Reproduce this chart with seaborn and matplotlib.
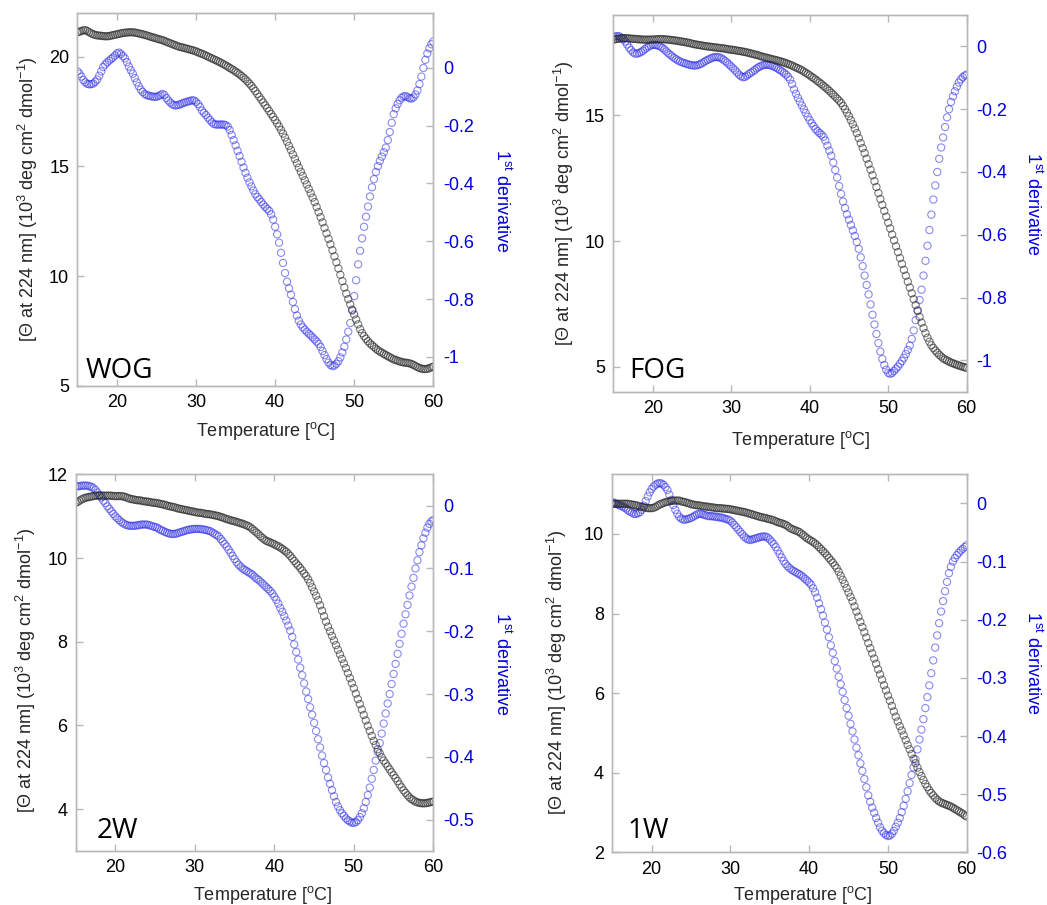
import numpy as np
import matplotlib
matplotlib.use("Agg")
import matplotlib.pyplot as plt
import seaborn as sns

# temperature grid of the melt (15-60 C, 0.25 C steps)
temps = np.arange(15, 60.001, 0.25)

# WOG
wog_theta = [
    21.12, 21.15, 21.18, 21.21, 21.22, 21.18, 21.12, 21.07,
    21.03, 21.00, 20.98, 20.97, 20.96, 20.95, 20.94, 20.94,
    20.95, 20.97, 20.99, 21.01, 21.03, 21.05, 21.07, 21.09,
    21.10, 21.11, 21.12, 21.12, 21.12, 21.11, 21.09, 21.07,
    21.05, 21.03, 21.00, 20.98, 20.95, 20.92, 20.89, 20.87,
    20.84, 20.81, 20.79, 20.76, 20.73, 20.69, 20.65, 20.62,
    20.58, 20.55, 20.51, 20.48, 20.45, 20.43, 20.41, 20.38,
    20.36, 20.33, 20.31, 20.28, 20.25, 20.21, 20.17, 20.14,
    20.10, 20.06, 20.02, 19.97, 19.93, 19.89, 19.85, 19.80,
    19.76, 19.71, 19.66, 19.61, 19.56, 19.50, 19.45, 19.39,
    19.33, 19.27, 19.20, 19.13, 19.05, 18.97, 18.88, 18.78,
    18.68, 18.56, 18.44, 18.31, 18.18, 18.05, 17.92, 17.79,
    17.66, 17.53, 17.39, 17.26, 17.12, 16.97, 16.82, 16.66,
    16.50, 16.32, 16.13, 15.94, 15.75, 15.55, 15.35, 15.15,
    14.95, 14.76, 14.57, 14.37, 14.18, 13.98, 13.78, 13.58,
    13.38, 13.15, 12.92, 12.69, 12.45, 12.20, 11.95, 11.70,
    11.45, 11.18, 10.90, 10.63, 10.35, 10.06, 9.77, 9.48,
    9.20, 8.95, 8.71, 8.47, 8.25, 8.02, 7.80, 7.58,
    7.40, 7.26, 7.14, 7.03, 6.93, 6.85, 6.77, 6.69,
    6.62, 6.56, 6.51, 6.45, 6.40, 6.35, 6.30, 6.25,
    6.20, 6.17, 6.14, 6.11, 6.08, 6.06, 6.05, 6.04,
    6.02, 5.99, 5.95, 5.90, 5.85, 5.81, 5.78, 5.76,
    5.76, 5.77, 5.80, 5.84, 5.87,
]
wog_deriv = [
    -0.012, -0.020, -0.030, -0.042, -0.050, -0.055, -0.057, -0.056,
    -0.054, -0.048, -0.040, -0.027, -0.012, 0.003, 0.012, 0.019,
    0.025, 0.031, 0.036, 0.043, 0.050, 0.053, 0.048, 0.041,
    0.033, 0.020, 0.005, -0.008, -0.020, -0.035, -0.050, -0.063,
    -0.075, -0.083, -0.090, -0.094, -0.096, -0.098, -0.099, -0.100,
    -0.100, -0.097, -0.094, -0.090, -0.094, -0.104, -0.113, -0.120,
    -0.126, -0.129, -0.130, -0.128, -0.126, -0.123, -0.120, -0.118,
    -0.116, -0.114, -0.112, -0.113, -0.118, -0.125, -0.135, -0.148,
    -0.156, -0.163, -0.172, -0.180, -0.188, -0.194, -0.196, -0.196,
    -0.196, -0.196, -0.196, -0.198, -0.203, -0.215, -0.232, -0.250,
    -0.268, -0.287, -0.305, -0.325, -0.345, -0.363, -0.380, -0.396,
    -0.410, -0.424, -0.437, -0.447, -0.455, -0.464, -0.473, -0.481,
    -0.488, -0.495, -0.507, -0.525, -0.550, -0.576, -0.605, -0.640,
    -0.675, -0.710, -0.740, -0.763, -0.785, -0.810, -0.835, -0.857,
    -0.875, -0.888, -0.898, -0.906, -0.913, -0.920, -0.926, -0.933,
    -0.940, -0.947, -0.955, -0.966, -0.980, -0.994, -1.008, -1.020,
    -1.028, -1.032, -1.030, -1.024, -1.015, -1.002, -0.985, -0.965,
    -0.940, -0.913, -0.883, -0.840, -0.790, -0.735, -0.680, -0.633,
    -0.590, -0.550, -0.515, -0.480, -0.445, -0.413, -0.385, -0.360,
    -0.340, -0.322, -0.307, -0.292, -0.276, -0.250, -0.222, -0.190,
    -0.160, -0.140, -0.125, -0.112, -0.103, -0.099, -0.097, -0.101,
    -0.105, -0.106, -0.102, -0.092, -0.078, -0.056, -0.030, 0.000,
    0.028, 0.050, 0.068, 0.082, 0.091,
]

# FOG
fog_theta = [
    18.02, 18.04, 18.05, 18.06, 18.07, 18.08, 18.08, 18.07,
    18.07, 18.06, 18.05, 18.05, 18.04, 18.03, 18.03, 18.02,
    18.02, 18.02, 18.02, 18.02, 18.02, 18.03, 18.03, 18.04,
    18.04, 18.04, 18.03, 18.03, 18.02, 18.01, 18.00, 17.99,
    17.98, 17.97, 17.95, 17.94, 17.93, 17.91, 17.90, 17.88,
    17.86, 17.84, 17.83, 17.81, 17.80, 17.79, 17.77, 17.76,
    17.75, 17.74, 17.73, 17.72, 17.71, 17.70, 17.69, 17.68,
    17.67, 17.66, 17.64, 17.63, 17.62, 17.61, 17.60, 17.58,
    17.57, 17.56, 17.54, 17.53, 17.51, 17.49, 17.47, 17.45,
    17.43, 17.41, 17.39, 17.36, 17.34, 17.32, 17.30, 17.28,
    17.26, 17.24, 17.22, 17.20, 17.18, 17.16, 17.13, 17.11,
    17.08, 17.05, 17.02, 16.99, 16.95, 16.91, 16.88, 16.84,
    16.80, 16.75, 16.70, 16.65, 16.60, 16.54, 16.49, 16.43,
    16.37, 16.31, 16.25, 16.18, 16.12, 16.05, 15.98, 15.90,
    15.83, 15.75, 15.67, 15.59, 15.50, 15.38, 15.25, 15.11,
    14.97, 14.81, 14.65, 14.48, 14.30, 14.10, 13.90, 13.70,
    13.50, 13.28, 13.06, 12.84, 12.62, 12.38, 12.15, 11.91,
    11.67, 11.44, 11.20, 10.97, 10.73, 10.50, 10.26, 10.03,
    9.79, 9.56, 9.32, 9.09, 8.85, 8.62, 8.38, 8.15,
    7.92, 7.68, 7.45, 7.21, 6.98, 6.75, 6.53, 6.33,
    6.15, 5.99, 5.85, 5.74, 5.64, 5.55, 5.47, 5.40,
    5.33, 5.28, 5.24, 5.20, 5.16, 5.13, 5.10, 5.07,
    5.04, 5.02, 4.99, 4.97, 4.95,
]
fog_deriv = [
    0.030, 0.032, 0.033, 0.032, 0.028, 0.023, 0.016, 0.006,
    -0.004, -0.012, -0.019, -0.023, -0.023, -0.021, -0.018, -0.014,
    -0.009, -0.004, 0.000, 0.003, 0.005, 0.005, 0.004, 0.002,
    -0.001, -0.005, -0.010, -0.016, -0.022, -0.027, -0.032, -0.037,
    -0.041, -0.045, -0.048, -0.051, -0.053, -0.055, -0.057, -0.059,
    -0.060, -0.061, -0.061, -0.059, -0.057, -0.054, -0.050, -0.046,
    -0.043, -0.040, -0.037, -0.035, -0.034, -0.034, -0.035, -0.038,
    -0.042, -0.047, -0.052, -0.058, -0.064, -0.070, -0.076, -0.083,
    -0.090, -0.095, -0.098, -0.097, -0.093, -0.088, -0.084, -0.080,
    -0.075, -0.070, -0.066, -0.063, -0.060, -0.059, -0.058, -0.059,
    -0.060, -0.062, -0.065, -0.068, -0.072, -0.076, -0.080, -0.085,
    -0.090, -0.097, -0.106, -0.120, -0.137, -0.151, -0.164, -0.176,
    -0.188, -0.200, -0.212, -0.224, -0.235, -0.245, -0.254, -0.263,
    -0.270, -0.276, -0.281, -0.288, -0.300, -0.316, -0.332, -0.348,
    -0.370, -0.394, -0.418, -0.445, -0.470, -0.494, -0.515, -0.535,
    -0.552, -0.569, -0.586, -0.604, -0.623, -0.645, -0.672, -0.700,
    -0.730, -0.760, -0.790, -0.822, -0.855, -0.886, -0.916, -0.945,
    -0.972, -0.996, -1.015, -1.030, -1.040, -1.043, -1.040, -1.034,
    -1.027, -1.020, -1.011, -1.002, -0.992, -0.980, -0.967, -0.953,
    -0.932, -0.905, -0.872, -0.840, -0.808, -0.775, -0.730, -0.683,
    -0.635, -0.585, -0.536, -0.488, -0.443, -0.400, -0.358, -0.322,
    -0.290, -0.257, -0.226, -0.200, -0.177, -0.159, -0.143, -0.128,
    -0.115, -0.105, -0.098, -0.093, -0.090,
]

# 2W
w2_theta = [
    11.32, 11.34, 11.37, 11.40, 11.42, 11.44, 11.45, 11.46,
    11.47, 11.48, 11.49, 11.49, 11.49, 11.49, 11.49, 11.49,
    11.49, 11.49, 11.49, 11.48, 11.48, 11.48, 11.48, 11.48,
    11.47, 11.46, 11.44, 11.42, 11.41, 11.40, 11.39, 11.38,
    11.38, 11.37, 11.36, 11.35, 11.35, 11.34, 11.33, 11.32,
    11.32, 11.31, 11.30, 11.29, 11.28, 11.27, 11.25, 11.24,
    11.23, 11.22, 11.21, 11.19, 11.18, 11.17, 11.16, 11.15,
    11.14, 11.13, 11.12, 11.11, 11.10, 11.09, 11.08, 11.08,
    11.07, 11.06, 11.05, 11.05, 11.04, 11.03, 11.02, 11.01,
    11.00, 10.98, 10.97, 10.95, 10.93, 10.92, 10.90, 10.89,
    10.88, 10.86, 10.85, 10.83, 10.82, 10.80, 10.78, 10.76,
    10.73, 10.69, 10.65, 10.61, 10.57, 10.52, 10.48, 10.44,
    10.41, 10.39, 10.37, 10.35, 10.33, 10.30, 10.28, 10.25,
    10.22, 10.18, 10.15, 10.10, 10.05, 9.99, 9.93, 9.87,
    9.82, 9.76, 9.70, 9.63, 9.57, 9.49, 9.40, 9.30,
    9.20, 9.10, 8.99, 8.87, 8.74, 8.61, 8.48, 8.36,
    8.25, 8.14, 8.03, 7.92, 7.81, 7.70, 7.59, 7.48,
    7.37, 7.25, 7.13, 7.01, 6.89, 6.76, 6.63, 6.51,
    6.38, 6.25, 6.12, 5.99, 5.87, 5.75, 5.63, 5.53,
    5.43, 5.34, 5.24, 5.16, 5.09, 5.02, 4.95, 4.88,
    4.81, 4.74, 4.67, 4.59, 4.52, 4.45, 4.39, 4.33,
    4.28, 4.24, 4.21, 4.18, 4.16, 4.15, 4.14, 4.14,
    4.14, 4.15, 4.16, 4.17, 4.18,
]
w2_deriv = [
    0.031, 0.031, 0.031, 0.032, 0.032, 0.032, 0.032, 0.031,
    0.030, 0.028, 0.025, 0.021, 0.017, 0.013, 0.008, 0.004,
    -0.001, -0.005, -0.009, -0.013, -0.017, -0.020, -0.023, -0.026,
    -0.028, -0.030, -0.031, -0.032, -0.032, -0.032, -0.032, -0.031,
    -0.031, -0.030, -0.030, -0.030, -0.030, -0.031, -0.032, -0.033,
    -0.034, -0.035, -0.037, -0.039, -0.040, -0.042, -0.043, -0.044,
    -0.045, -0.045, -0.045, -0.044, -0.043, -0.042, -0.041, -0.040,
    -0.039, -0.038, -0.038, -0.037, -0.037, -0.037, -0.037, -0.037,
    -0.038, -0.038, -0.039, -0.040, -0.041, -0.043, -0.045, -0.047,
    -0.049, -0.053, -0.057, -0.061, -0.065, -0.070, -0.075, -0.080,
    -0.085, -0.090, -0.094, -0.097, -0.100, -0.102, -0.104, -0.106,
    -0.108, -0.110, -0.113, -0.116, -0.118, -0.121, -0.124, -0.127,
    -0.130, -0.133, -0.136, -0.140, -0.145, -0.150, -0.156, -0.163,
    -0.169, -0.176, -0.183, -0.191, -0.199, -0.209, -0.221, -0.233,
    -0.245, -0.258, -0.270, -0.283, -0.296, -0.308, -0.321, -0.333,
    -0.346, -0.359, -0.372, -0.385, -0.398, -0.410, -0.421, -0.433,
    -0.443, -0.453, -0.463, -0.472, -0.479, -0.485, -0.490, -0.494,
    -0.498, -0.501, -0.503, -0.505, -0.505, -0.504, -0.501, -0.496,
    -0.490, -0.482, -0.472, -0.461, -0.449, -0.435, -0.421, -0.406,
    -0.392, -0.378, -0.363, -0.347, -0.331, -0.315, -0.300, -0.284,
    -0.268, -0.252, -0.236, -0.220, -0.204, -0.188, -0.173, -0.158,
    -0.143, -0.129, -0.115, -0.100, -0.087, -0.074, -0.063, -0.052,
    -0.043, -0.035, -0.029, -0.025, -0.023,
]

# 1W
w1_theta = [
    10.76, 10.76, 10.76, 10.76, 10.76, 10.76, 10.76, 10.76,
    10.76, 10.75, 10.74, 10.73, 10.72, 10.71, 10.69, 10.68,
    10.67, 10.66, 10.65, 10.65, 10.65, 10.66, 10.68, 10.71,
    10.74, 10.76, 10.78, 10.80, 10.81, 10.82, 10.83, 10.84,
    10.84, 10.84, 10.84, 10.82, 10.81, 10.80, 10.78, 10.77,
    10.75, 10.74, 10.73, 10.72, 10.72, 10.71, 10.70, 10.69,
    10.69, 10.68, 10.67, 10.67, 10.66, 10.65, 10.65, 10.65,
    10.64, 10.64, 10.63, 10.63, 10.62, 10.61, 10.60, 10.59,
    10.58, 10.57, 10.56, 10.55, 10.54, 10.52, 10.51, 10.49,
    10.48, 10.46, 10.45, 10.43, 10.42, 10.41, 10.40, 10.38,
    10.37, 10.36, 10.34, 10.32, 10.30, 10.28, 10.27, 10.25,
    10.23, 10.20, 10.16, 10.13, 10.11, 10.09, 10.07, 10.05,
    10.01, 9.97, 9.93, 9.89, 9.86, 9.83, 9.80, 9.76,
    9.72, 9.67, 9.62, 9.57, 9.52, 9.46, 9.40, 9.34,
    9.28, 9.21, 9.14, 9.05, 8.95, 8.85, 8.75, 8.64,
    8.53, 8.42, 8.31, 8.18, 8.05, 7.92, 7.79, 7.66,
    7.53, 7.40, 7.26, 7.13, 7.00, 6.87, 6.74, 6.60,
    6.47, 6.34, 6.20, 6.07, 5.94, 5.81, 5.68, 5.54,
    5.41, 5.29, 5.17, 5.06, 4.94, 4.82, 4.70, 4.59,
    4.47, 4.35, 4.24, 4.13, 4.02, 3.92, 3.82, 3.72,
    3.64, 3.56, 3.49, 3.43, 3.37, 3.32, 3.28, 3.25,
    3.23, 3.21, 3.19, 3.17, 3.15, 3.12, 3.09, 3.06,
    3.03, 3.00, 2.97, 2.93, 2.90,
]
w1_deriv = [
    0.002, 0.001, -0.001, -0.002, -0.004, -0.005, -0.007, -0.009,
    -0.012, -0.014, -0.016, -0.018, -0.018, -0.017, -0.015, -0.011,
    -0.004, 0.004, 0.012, 0.019, 0.025, 0.029, 0.032, 0.034,
    0.035, 0.034, 0.032, 0.028, 0.023, 0.015, 0.006, -0.003,
    -0.011, -0.018, -0.023, -0.026, -0.028, -0.028, -0.027, -0.026,
    -0.025, -0.023, -0.021, -0.019, -0.018, -0.018, -0.019, -0.020,
    -0.021, -0.022, -0.022, -0.022, -0.023, -0.023, -0.024, -0.024,
    -0.025, -0.026, -0.027, -0.028, -0.030, -0.033, -0.037, -0.041,
    -0.045, -0.049, -0.053, -0.057, -0.060, -0.062, -0.063, -0.062,
    -0.061, -0.060, -0.059, -0.058, -0.057, -0.057, -0.057, -0.059,
    -0.062, -0.066, -0.070, -0.075, -0.081, -0.087, -0.093, -0.099,
    -0.104, -0.108, -0.111, -0.114, -0.116, -0.118, -0.120, -0.122,
    -0.124, -0.127, -0.130, -0.133, -0.136, -0.140, -0.146, -0.153,
    -0.162, -0.172, -0.182, -0.193, -0.205, -0.217, -0.230, -0.244,
    -0.257, -0.271, -0.284, -0.298, -0.311, -0.324, -0.338, -0.352,
    -0.365, -0.379, -0.392, -0.406, -0.420, -0.433, -0.447, -0.460,
    -0.474, -0.488, -0.502, -0.513, -0.523, -0.532, -0.541, -0.549,
    -0.557, -0.563, -0.567, -0.570, -0.572, -0.571, -0.568, -0.563,
    -0.556, -0.549, -0.541, -0.531, -0.520, -0.508, -0.495, -0.481,
    -0.467, -0.454, -0.440, -0.423, -0.406, -0.389, -0.371, -0.352,
    -0.333, -0.313, -0.292, -0.270, -0.248, -0.227, -0.206, -0.186,
    -0.168, -0.151, -0.135, -0.120, -0.109, -0.100, -0.094, -0.089,
    -0.085, -0.081, -0.078, -0.075, -0.072,
]

panel_names = ["WOG", "FOG", "2W", "1W"]
theta_series = [wog_theta, fog_theta, w2_theta, w1_theta]
deriv_series = [wog_deriv, fog_deriv, w2_deriv, w1_deriv]
left_lims = [(5, 22), (4, 19), (3, 12), (2, 11.5)]
left_ticks = [[5, 10, 15, 20], [5, 10, 15], [4, 6, 8, 10, 12], [2, 4, 6, 8, 10]]
right_lims = [(-1.1, 0.19), (-1.1, 0.1), (-0.55, 0.05), (-0.6, 0.05)]
right_ticks = [[0, -0.2, -0.4, -0.6, -0.8, -1],
               [0, -0.2, -0.4, -0.6, -0.8, -1],
               [0, -0.1, -0.2, -0.3, -0.4, -0.5],
               [0, -0.1, -0.2, -0.3, -0.4, -0.5, -0.6]]
x_ticks = [20, 30, 40, 50, 60]

# layout (figure fractions) and label placements (axes fractions)
rects = [[0.0740, 0.5738, 0.3398, 0.4118],
         [0.5859, 0.5672, 0.3374, 0.4162],
         [0.0722, 0.0597, 0.3417, 0.4162],
         [0.5848, 0.0582, 0.3385, 0.4177]]
ylab_pos = [(-0.14, 0.50), (-0.14, 0.50), (-0.138, 0.48), (-0.155, 0.477)]
xlab_pos = [(0.53, -0.122), (0.53, -0.128), (0.524, -0.117), (0.537, -0.113)]
rlab_pos = [(1.194, 0.497), (1.187, 0.498), (1.192, 0.496), (1.188, 0.50)]
name_pos = [(0.022, 0.021), (0.044, 0.036), (0.058, 0.035), (0.042, 0.039)]

sns.set_style("ticks")
plt.rcParams["font.family"] = ["Liberation Sans", "DejaVu Sans"]
plt.rcParams["mathtext.default"] = "regular"
plt.rcParams["axes.unicode_minus"] = False

BLUE = "#0000e0"
SPINE = "#b8b8b8"

fig = plt.figure(figsize=(10.47, 9.05), dpi=100)

for i in range(4):
    ax = fig.add_axes(rects[i])
    ax2 = ax.twinx()

    sns.scatterplot(x=temps, y=deriv_series[i], ax=ax2, marker="o", s=27,
                    facecolor="none", edgecolor="#2a2ae6", linewidth=0.8,
                    alpha=0.55, legend=False)
    sns.scatterplot(x=temps, y=theta_series[i], ax=ax, marker="o", s=27,
                    facecolor="none", edgecolor="#222222", linewidth=0.8,
                    alpha=0.6, legend=False)
    # black curve drawn above the blue one
    ax.set_zorder(ax2.get_zorder() + 1)
    ax.patch.set_visible(False)

    ax.set_xlim(15, 60)
    ax.set_xticks(x_ticks)
    ax.set_ylim(*left_lims[i])
    ax.set_yticks(left_ticks[i])
    ax2.set_ylim(*right_lims[i])
    ax2.set_yticks(right_ticks[i])
    ax2.set_yticklabels([f"{t:g}" for t in right_ticks[i]])

    ax.tick_params(axis="both", direction="in", length=5, width=1,
                   color=SPINE, labelsize=13, labelcolor="black", pad=6,
                   top=True, right=False)
    ax2.tick_params(axis="y", direction="in", length=5, width=1,
                    color=SPINE, labelsize=13, labelcolor=BLUE, pad=7)
    for a in (ax, ax2):
        for sp in a.spines.values():
            sp.set_color(SPINE)
            sp.set_linewidth(1.0)
            sp.set_visible(True)

    ax.set_xlabel("Temperature [$^o$C]", fontsize=13, va="center")
    ax.xaxis.set_label_coords(*xlab_pos[i])
    ax.set_ylabel("[Θ at 224 nm] (10$^3$ deg cm$^2$ dmol$^{-1}$)",
                  fontsize=13, va="center")
    ax.yaxis.set_label_coords(*ylab_pos[i])
    ax2.set_ylabel("1$^{st}$ derivative", fontsize=13, color=BLUE,
                   rotation=270, va="center", ha="center")
    ax2.yaxis.set_label_coords(*rlab_pos[i])

    ax.text(name_pos[i][0], name_pos[i][1], panel_names[i],
            transform=ax.transAxes, fontsize=20, family=["Open Sans", "DejaVu Sans"],
            ha="left", va="baseline", color="black")

fig.savefig("out.png", dpi=100)
